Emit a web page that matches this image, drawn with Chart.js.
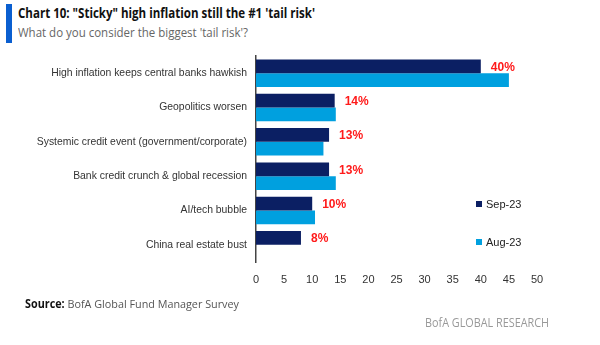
<!DOCTYPE html>
<html>
<head>
<meta charset="utf-8">
<script src="https://cdn.jsdelivr.net/npm/chart.js@4/dist/chart.umd.min.js"></script>
<style>
  html, body { margin: 0; padding: 0; background: #fff; }
  #wrap { position: relative; width: 600px; height: 345px; overflow: hidden; font-family: "Open Sans", "Liberation Sans", sans-serif; }
  #chart-canvas { position: absolute; left: 0; top: 0; }
  .txt { position: absolute; white-space: nowrap; transform-origin: 0 50%; line-height: 1; }
  #bluebar { position: absolute; left: 6px; top: 4px; width: 6px; height: 39px; background: #0a5fd0; }
  #title { left: 18px; top: 7px; font-size: 13.5px; font-weight: 700; color: #111; }
  #subtitle { left: 18px; top: 27px; font-size: 12.5px; color: #666; }
  #source { left: 25px; top: 298px; font-size: 11.5px; color: #555; }
  #source b { color: #111; }
  #footer { left: 425px; top: 316px; font-size: 13px; color: #999; }
  .legend { position: absolute; left: 476px; font-family: "Liberation Sans", Arial, sans-serif; font-size: 11px; color: #222; display: flex; align-items: center; }
  .legend i { display: inline-block; width: 6px; height: 6px; margin-right: 4px; }
</style>
</head>
<body>
<div id="wrap">
  <div id="bluebar"></div>
  <div class="txt" id="title">Chart 10: "Sticky" high inflation still the #1 'tail risk'</div>
  <div class="txt" id="subtitle">What do you consider the biggest 'tail risk'?</div>
  <canvas id="chart-canvas" width="600" height="345"></canvas>
  <div class="legend" id="legend-sep" style="top:198px"><i style="background:#0b1f63"></i>Sep-23</div>
  <div class="legend" id="legend-aug" style="top:236px"><i style="background:#00a0df"></i>Aug-23</div>
  <div class="txt" id="source"><b>Source:</b> BofA Global Fund Manager Survey</div>
  <div class="txt" id="footer">BofA GLOBAL RESEARCH</div>
</div>
<script>
// Data
const categories = [
    'High inflation keeps central banks hawkish',
    'Geopolitics worsen',
    'Systemic credit event (government/corporate)',
    'Bank credit crunch & global recession',
    'AI/tech bubble',
    'China real estate bust'
]
const sep23 = [40, 14, 13, 13, 10, 8]
const aug23 = [45, 14.2, 12, 14.2, 10.5, null]
const x_ticks = [0, 5, 10, 15, 20, 25, 30, 35, 40, 45, 50]

const sep_color = '#0b1f63'
const aug_color = '#00a0df'

// squeeze condensed-looking text to the widths in the reference
const fit = (id, width) => {
    const el = document.getElementById(id)
    const w = el.getBoundingClientRect().width
    el.style.transform = `scaleX(${width / w})`
}
fit('title', 297)
fit('subtitle', 230)
fit('source', 214)
fit('footer', 124)

// red % labels next to the Sep-23 bars
const pct_labels = {
    id: 'pct_labels',
    afterDatasetsDraw(chart) {
        const ctx = chart.ctx
        const meta = chart.getDatasetMeta(0)
        ctx.save()
        ctx.fillStyle = '#ff1a1a'
        ctx.font = 'bold 12px "Liberation Sans", Arial, sans-serif'
        ctx.textBaseline = 'middle'
        ctx.textAlign = 'left'
        meta.data.forEach((bar, i) => {
            ctx.fillText(`${sep23[i]}%`, bar.x + 10, bar.y + 1)
        })
        ctx.restore()
    }
}

new Chart(document.getElementById('chart-canvas'), {
    type: 'bar',
    data: {
        labels: categories,
        datasets: [
            { label: 'Sep-23', data: sep23, backgroundColor: sep_color },
            { label: 'Aug-23', data: aug23, backgroundColor: aug_color }
        ]
    },
    options: {
        indexAxis: 'y',
        responsive: false,
        animation: false,
        events: [],
        layout: { padding: { left: 0, right: 63, top: 56, bottom: 53 } },
        datasets: { bar: { categoryPercentage: 0.8, barPercentage: 1.0 } },
        plugins: { legend: { display: false }, tooltip: { enabled: false } },
        scales: {
            x: {
                min: 0,
                max: 50,
                afterBuildTicks: (s) => { s.ticks = x_ticks.map(v => ({ value: v })) },
                afterFit: (s) => { s.height = 30 },
                grid: { display: false, drawTicks: false },
                border: { display: false },
                ticks: {
                    padding: 11,
                    color: '#333',
                    font: { family: '"Liberation Sans", Arial, sans-serif', size: 11 }
                }
            },
            y: {
                afterFit: (s) => { s.width = 256 },
                grid: { display: false, drawTicks: false },
                border: { display: true, color: '#444', width: 1.5 },
                ticks: {
                    padding: 9,
                    color: '#333',
                    autoSkip: false,
                    font: { family: '"Liberation Sans", Arial, sans-serif', size: 10.4 }
                }
            }
        }
    },
    plugins: [pct_labels]
})
</script>
</body>
</html>
